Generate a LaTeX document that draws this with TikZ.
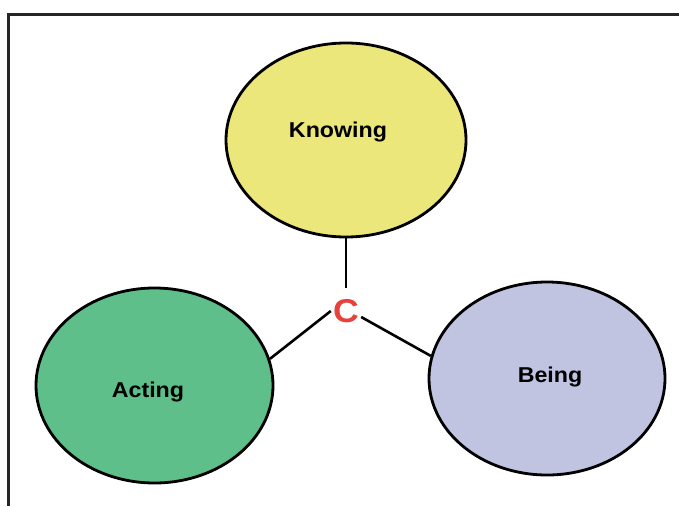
\documentclass[tikz,border=0pt]{standalone}
\usepackage{fontspec}
\setmainfont{Liberation Sans}
\newfontfamily\labfont[FakeStretch=1.08]{Liberation Sans}
\usetikzlibrary{shapes.geometric}
\definecolor{frameink}{HTML}{262626}
\definecolor{knowfill}{HTML}{ECE77A}
\definecolor{actfill}{HTML}{5EBF8B}
\definecolor{beingfill}{HTML}{C1C4E1}
\definecolor{cred}{HTML}{E8403A}
\begin{document}
\begin{tikzpicture}[x=1pt,y=-1pt,
  blob/.style={ellipse, draw=black, line width=2.8pt, inner sep=0pt},
  blobtext/.style={font=\labfont\bfseries\fontsize{21.5}{25}\selectfont, text=black, inner sep=0pt},
  link/.style={draw=black, line width=2.6pt},
  hub/.style={font=\labfont\bfseries\fontsize{33}{36}\selectfont, text=cred,
              minimum width=30pt, minimum height=46pt, inner sep=0pt}]
  \useasboundingbox (0,0) rectangle (679,506);
  \fill[white] (0,0) rectangle (679,506);

  % frame edges (top and left)
  \draw[frameink, line width=2.6pt] (8.7,506) -- (8.7,14.5) -- (679,14.5);

  % the three spheres
  \node[blob, fill=knowfill, minimum width=240pt, minimum height=194pt] (knowing) at (346,140) {};
  \node[blob, fill=actfill, minimum width=237pt, minimum height=195pt] (acting) at (154.5,385.5) {};
  \node[blob, fill=beingfill, minimum width=236pt, minimum height=193pt] (being) at (547,378.5) {};

  \node[blobtext] (knowingtxt) at (338,132) {Knowing};
  \node[blobtext] (actingtxt) at (148,392) {Acting};
  \node[blobtext] (beingtxt) at (550,377) {Being};

  % centre
  \node[hub] (c) at (346,311) {C};

  % connectors
  \draw[link] (knowing.south) -- (c.north);
  \draw[link] (c.west) -- (acting.13.6);
  \draw[link] ([yshift=-6pt]c.east) -- (being.169.8);
\end{tikzpicture}
\end{document}
